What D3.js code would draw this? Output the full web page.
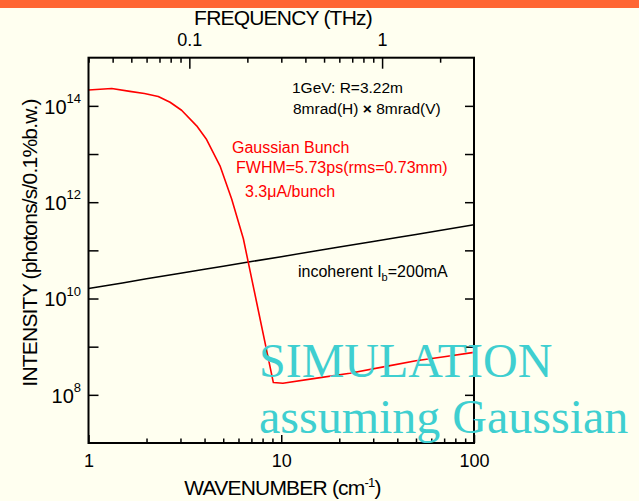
<!DOCTYPE html>
<html>
<head>
<meta charset="utf-8">
<script src="https://cdn.jsdelivr.net/npm/d3@7"></script>
<style>
  html, body { margin: 0; padding: 0; background: #fffff0; }
  svg { display: block; }
</style>
</head>
<body>
<svg id="chart" width="639" height="501"></svg>
<script>
// Axis ticks
const wavenumberTicks = [1, 10, 100];
const wavenumberMinor = [2, 3, 4, 5, 6, 7, 8, 9, 20, 30, 40, 50, 60, 70, 80, 90];
const frequencyTicks = [0.1, 1];
const frequencyMinor = [0.03, 0.04, 0.05, 0.06, 0.07, 0.08, 0.09,
                        0.2, 0.3, 0.4, 0.5, 0.6, 0.7, 0.8, 0.9, 2];
const intensityTicks = [1e8, 1e9, 1e10, 1e11, 1e12, 1e13, 1e14];
const intensityLabelled = [1e8, 1e10, 1e12, 1e14];

// Coherent emission from a Gaussian bunch (wavenumber in cm^-1, photons/s/0.1%b.w.)
const coherentWavenumber = [1.0, 1.32, 1.64, 1.95, 2.3, 2.65, 3.04, 3.64, 4.1, 4.81, 5.53, 6.36,
                            9.1, 10.2, 15, 22.7, 35, 50, 70, 100];
const coherentIntensity  = [2.14e14, 2.29e14, 2.0e14, 1.81e14, 1.57e14, 1.19e14, 8.1e13, 3.85e13,
                            2.0e13, 5.7e12, 1.17e12, 1.74e11, 1.8e8, 1.74e8, 2.2e8, 2.8e8, 3.9e8,
                            5.1e8, 6.2e8, 7.6e8];

// Incoherent synchrotron radiation at Ib = 200 mA
const incoherentWavenumber = [1, 1.5, 2, 3, 4, 5, 7, 10, 15, 20, 30, 40, 50, 70, 100];
const incoherentIntensity  = [1.62e10, 2.1e10, 2.56e10, 3.35e10, 4.05e10, 4.7e10, 5.85e10,
                              7.4e10, 9.7e10, 1.17e11, 1.53e11, 1.85e11, 2.14e11, 2.68e11, 3.39e11];

const THZ_PER_WAVENUMBER = 0.0299792458;

const svg = d3.select("#chart");
const FONT = "'Liberation Sans', Arial, Helvetica, sans-serif";

const plotLeft = 88.5, plotRight = 474, plotTop = 57.7, plotBottom = 443;

const x = d3.scaleLog().domain([1, 100]).range([plotLeft, plotRight]);
const f = d3.scaleLog().domain([1 * THZ_PER_WAVENUMBER, 100 * THZ_PER_WAVENUMBER]).range([plotLeft, plotRight]);
const y = d3.scaleLog().domain([1e7, 1e15]).range([plotBottom, plotTop]);

// Orange band across the top of the page
svg.append("rect").attr("x", 0).attr("y", 0).attr("width", 639).attr("height", 8)
  .attr("fill", "#ff6633");

// Titles
svg.append("text")
  .attr("x", 283).attr("y", 25)
  .attr("text-anchor", "middle")
  .attr("font-family", FONT).attr("font-size", 21).attr("letter-spacing", -0.8)
  .text("FREQUENCY (THz)");

const xt = svg.append("text")
  .attr("x", 282.5).attr("y", 495)
  .attr("text-anchor", "middle")
  .attr("font-family", FONT).attr("font-size", 21).attr("letter-spacing", -0.8);
xt.append("tspan").text("WAVENUMBER (cm");
xt.append("tspan").attr("dy", -8).attr("font-size", 13).text("-1");
xt.append("tspan").attr("dy", 8).text(")");

svg.append("text")
  .attr("transform", "translate(37,243) rotate(-90)")
  .attr("text-anchor", "middle")
  .attr("font-family", FONT).attr("font-size", 21).attr("letter-spacing", -0.8)
  .text("INTENSITY (photons/s/0.1%b.w.)");

// Axes
function styleAxis(g) {
  g.select(".domain").remove();
  g.attr("font-family", FONT);
  g.selectAll(".tick line").attr("stroke", "#000").attr("stroke-width", 1.5);
  g.selectAll(".tick text").attr("fill", "#000");
}

svg.append("g").attr("transform", `translate(0,${plotBottom})`)
  .call(d3.axisBottom(x).tickValues(wavenumberTicks).tickSize(-8).tickPadding(11.5)
    .tickFormat(d => String(d)))
  .call(styleAxis).attr("font-size", 18);
svg.append("g").attr("transform", `translate(0,${plotBottom})`)
  .call(d3.axisBottom(x).tickValues(wavenumberMinor).tickSize(-4.5).tickFormat(""))
  .call(styleAxis);

svg.append("g").attr("transform", `translate(0,${plotTop})`)
  .call(d3.axisTop(f).tickValues(frequencyTicks).tickSize(-11).tickPadding(12)
    .tickFormat(d => String(d)))
  .call(styleAxis).attr("font-size", 18);
svg.append("g").attr("transform", `translate(0,${plotTop})`)
  .call(d3.axisTop(f).tickValues(frequencyMinor).tickSize(-5).tickFormat(""))
  .call(styleAxis);

const gL = svg.append("g").attr("transform", `translate(${plotLeft},0)`)
  .call(d3.axisLeft(y).tickValues(intensityTicks).tickSize(-10).tickPadding(7.5)
    .tickFormat(d => String(d)))
  .call(styleAxis).attr("font-size", 20);
gL.selectAll(".tick text").each(function (d) {
  const t = d3.select(this);
  t.text(null).attr("dy", null).attr("y", 7.3);
  if (!intensityLabelled.includes(d)) return;
  t.append("tspan").text("10");
  t.append("tspan").attr("dy", -10.7).attr("font-size", 13).text(Math.round(Math.log10(d)));
});

svg.append("g").attr("transform", `translate(${plotRight},0)`)
  .call(d3.axisRight(y).tickValues(intensityTicks).tickSize(-9).tickFormat(""))
  .call(styleAxis);

// Curves
svg.append("clipPath").attr("id", "plot-clip")
  .append("rect").attr("x", plotLeft).attr("y", plotTop)
  .attr("width", plotRight - plotLeft).attr("height", plotBottom - plotTop);

const line = d3.line().x(d => x(d[0])).y(d => y(d[1]));

svg.append("path")
  .datum(d3.zip(incoherentWavenumber, incoherentIntensity))
  .attr("clip-path", "url(#plot-clip)")
  .attr("fill", "none").attr("stroke", "#000").attr("stroke-width", 1.5)
  .attr("d", line);

svg.append("path")
  .datum(d3.zip(coherentWavenumber, coherentIntensity))
  .attr("clip-path", "url(#plot-clip)")
  .attr("fill", "none").attr("stroke", "#ff0000").attr("stroke-width", 1.6)
  .attr("stroke-linejoin", "round")
  .attr("d", line);

// Frame
svg.append("rect")
  .attr("x", plotLeft).attr("y", plotTop)
  .attr("width", plotRight - plotLeft).attr("height", plotBottom - plotTop)
  .attr("fill", "none").attr("stroke", "#000").attr("stroke-width", 2);

// Annotations
const note = (tx, ty, color) => svg.append("text")
  .attr("x", tx).attr("y", ty)
  .attr("font-family", FONT).attr("font-size", 15.5).attr("fill", color);

note(292, 93, "#000").text("1GeV: R=3.22m");
const m = note(293, 114, "#000");
m.append("tspan").text("8mrad(H) ");
m.append("tspan").attr("font-weight", "bold").text("×");
m.append("tspan").text(" 8mrad(V)");

note(232, 153, "#ff0000").attr("font-size", 16).text("Gaussian Bunch");
note(236, 173, "#ff0000").attr("font-size", 16).text("FWHM=5.73ps(rms=0.73mm)");
note(245, 197, "#ff0000").attr("font-size", 16).text("3.3μA/bunch");

const inc = note(298, 277, "#000").attr("font-size", 16);
inc.append("tspan").text("incoherent I");
inc.append("tspan").attr("dy", 4).attr("font-size", 11).text("b");
inc.append("tspan").attr("dy", -4).text("=200mA");

// Overlay caption
svg.append("text")
  .attr("x", 259).attr("y", 377)
  .attr("font-family", "'Liberation Serif', 'Times New Roman', serif")
  .attr("font-size", 48).attr("fill", "#3fcfd0")
  .text("SIMULATION");
svg.append("text")
  .attr("x", 259).attr("y", 433)
  .attr("font-family", "'Liberation Serif', 'Times New Roman', serif")
  .attr("font-size", 48).attr("fill", "#3fcfd0")
  .text("assuming Gaussian");
</script>
</body>
</html>
